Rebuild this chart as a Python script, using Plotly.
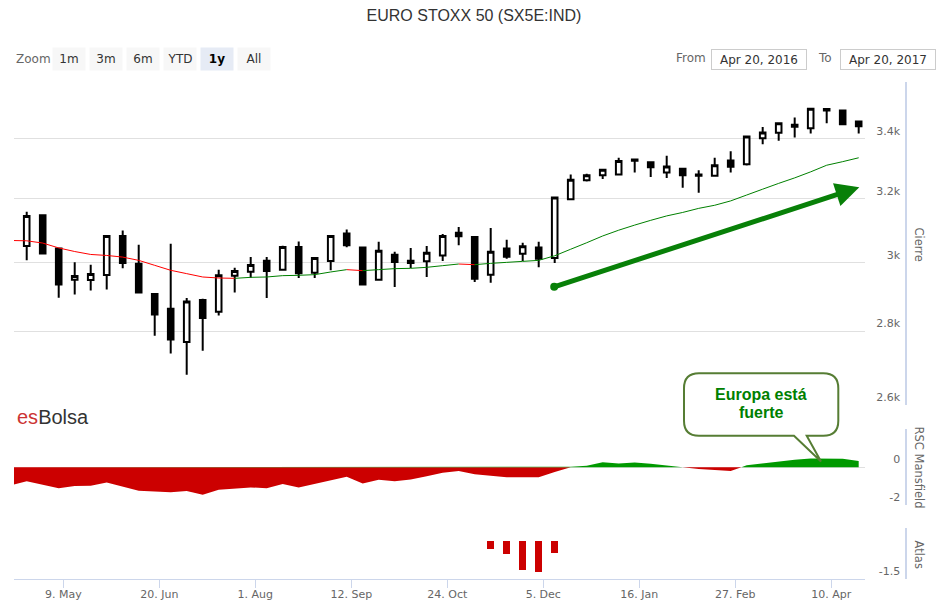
import pandas as pd
import plotly.graph_objects as go

# ---------------- data ----------------
CANDLE_START = "2016-04-23"
OPEN = [3051, 3147, 3043, 2949, 2948, 2963, 3082, 2997, 2907, 2864, 2769, 2889, 2855, 2961, 2973, 3006, 2979, 3048, 2970, 3005,
        3090, 3046, 2949, 3024, 3006, 3004, 3022, 3092, 3079, 2964, 3043, 3027, 3046, 3014, 3198, 3260, 3277, 3279, 3325, 3320,
        3286, 3298, 3275, 3275, 3326, 3313, 3401, 3420, 3441, 3436, 3503, 3498, 3459]
HIGH = [3158, 3150, 3045, 3001, 2994, 3084, 3099, 3055, 2908, 3058, 2895, 2893, 2979, 2985, 3017, 3017, 3052, 3065, 3016, 3084,
        3102, 3047, 3064, 3033, 3045, 3051, 3088, 3110, 3081, 3107, 3070, 3061, 3064, 3206, 3279, 3282, 3297, 3335, 3330, 3321,
        3342, 3299, 3293, 3335, 3357, 3410, 3440, 3457, 3473, 3506, 3505, 3499, 3461]
LOW = [3007, 3028, 2896, 2905, 2917, 2920, 2983, 2909, 2787, 2737, 2679, 2745, 2844, 2911, 2955, 2895, 2977, 2954, 2954, 2977,
       3047, 2933, 2947, 2927, 2984, 2957, 3005, 3053, 2942, 2940, 3012, 3005, 2986, 2999, 3195, 3256, 3264, 3277, 3286, 3271,
       3268, 3236, 3219, 3273, 3286, 3309, 3381, 3393, 3404, 3418, 3453, 3449, 3418]
CLOSE = [3145, 3028, 2935, 2960, 2966, 3082, 2999, 2911, 2847, 2776, 2885, 2837, 2962, 2975, 2993, 2975, 3048, 2968, 3014, 3082,
         3053, 2935, 3036, 3002, 2999, 3030, 3082, 3081, 2952, 3033, 3018, 3050, 3012, 3204, 3262, 3277, 3295, 3324, 3329, 3303,
         3306, 3277, 3279, 3310, 3305, 3407, 3421, 3453, 3448, 3504, 3498, 3450, 3443]

LINE_START = "2016-04-16"   # moving average & RSC Mansfield (one extra leading week)
MOVING_AVG = [3068, 3067, 3060, 3045, 3034, 3025, 3022, 3017, 3007, 2992, 2977, 2967, 2957, 2954, 2953, 2956, 2957, 2961, 2962,
              2964, 2972, 2979, 2976, 2979, 2982, 2983, 2986, 2991, 2996, 2994, 2998, 3001, 3004, 3007, 3021, 3041, 3061, 3082,
              3100, 3116, 3131, 3145, 3156, 3169, 3179, 3193, 3212, 3231, 3250, 3268, 3288, 3310, 3322, 3335]
RSC_MANSFIELD = [-0.96, -0.74, -0.93, -1.12, -1.00, -0.98, -0.81, -1.03, -1.25, -1.29, -1.33, -1.26, -1.46, -1.19, -1.13,
                 -1.07, -1.12, -0.89, -1.07, -0.88, -0.70, -0.51, -0.86, -0.67, -0.74, -0.65, -0.48, -0.30, -0.21, -0.38,
                 -0.45, -0.54, -0.54, -0.54, -0.25, 0.02, 0.07, 0.26, 0.19, 0.25, 0.18, 0.10, 0.00, -0.10, -0.15, -0.20,
                 0.10, 0.20, 0.29, 0.39, 0.46, 0.47, 0.45, 0.33]

ATLAS_DATES = ["2016-11-12", "2016-11-19", "2016-11-26", "2016-12-03", "2016-12-10"]
ATLAS = [-0.32, -0.52, -1.15, -1.23, -0.48]

X_TICKS = ["2016-05-09", "2016-06-20", "2016-08-01", "2016-09-12", "2016-10-24",
           "2016-12-05", "2017-01-16", "2017-02-27", "2017-04-10"]
X_TICK_TEXT = ["9. May", "20. Jun", "1. Aug", "12. Sep", "24. Oct", "5. Dec", "16. Jan", "27. Feb", "10. Apr"]
Y_TICKS = [2600, 2800, 3000, 3200, 3400, 3600]
Y_TICK_TEXT = ["2.6k", "2.8k", "3k", "3.2k", "3.4k", ""]
RSC_TICKS = [-2, 0, 2]
RSC_TICK_TEXT = ["-2", "0", ""]
ATLAS_TICKS = [-1.5, 0.5]
ATLAS_TICK_TEXT = ["-1.5", ""]

RANGE_BUTTONS = ["1m", "3m", "6m", "YTD", "1y", "All"]
ACTIVE_BUTTON = "1y"
FROM_DATE = "Apr 20, 2016"
TO_DATE = "Apr 20, 2017"

# ---------------- geometry helpers ----------------
PX_L, PX_R, PX_T, PX_B = 14, 906, 82, 579
W, H = PX_R - PX_L, PX_B - PX_T


def px(x):
    return (x - PX_L) / W


def py(y):
    return (PX_B - y) / H


candle_dates = pd.date_range(CANDLE_START, periods=len(OPEN), freq="7D")
line_dates = pd.date_range(LINE_START, periods=len(MOVING_AVG), freq="7D")

GRID = "#e0e0e0"
AXLINE = "#ccd6eb"
LABEL = "#666666"
FONT = "DejaVu Sans"

fig = go.Figure()

# candlesticks
fig.add_trace(go.Candlestick(
    x=candle_dates, open=OPEN, high=HIGH, low=LOW, close=CLOSE,
    increasing=dict(line=dict(color="black", width=2), fillcolor="white"),
    decreasing=dict(line=dict(color="black", width=2), fillcolor="black"),
    whiskerwidth=0, xaxis="x", yaxis="y", showlegend=False, hoverinfo="skip"))

# moving average coloured by slope
seg = {"red": ([], []), "green": ([], [])}
for i in range(len(MOVING_AVG) - 1):
    c = "red" if MOVING_AVG[i + 1] < MOVING_AVG[i] else "green"
    xs, ys = seg[c]
    xs += [line_dates[i], line_dates[i + 1], None]
    ys += [MOVING_AVG[i], MOVING_AVG[i + 1], None]
for c, col in (("red", "#ff0000"), ("green", "#008000")):
    fig.add_trace(go.Scatter(x=seg[c][0], y=seg[c][1], mode="lines", line=dict(color=col, width=1),
                             xaxis="x", yaxis="y", showlegend=False, hoverinfo="skip"))

# RSC Mansfield area, split at zero crossings
pts = []
for i, v in enumerate(RSC_MANSFIELD):
    t = line_dates[i]
    if i > 0:
        v0 = RSC_MANSFIELD[i - 1]
        if (v0 < 0 < v) or (v0 > 0 > v):
            frac = v0 / (v0 - v)
            pts.append((line_dates[i - 1] + (t - line_dates[i - 1]) * frac, 0.0))
    pts.append((t, v))
rx = [p[0] for p in pts]
fig.add_trace(go.Scatter(x=rx, y=[min(p[1], 0) for p in pts], mode="lines", line=dict(width=0, color="#cc0000"),
                         fill="tozeroy", fillcolor="#cc0000", xaxis="x", yaxis="y2", showlegend=False, hoverinfo="skip"))
fig.add_trace(go.Scatter(x=rx, y=[max(p[1], 0) for p in pts], mode="lines", line=dict(width=0, color="#009900"),
                         fill="tozeroy", fillcolor="#009900", xaxis="x", yaxis="y2", showlegend=False, hoverinfo="skip"))

# Atlas bars
fig.add_trace(go.Bar(x=pd.to_datetime(ATLAS_DATES), y=ATLAS, marker=dict(color="#cc0000", line=dict(width=0)),
                     width=3 * 86400000, xaxis="x", yaxis="y3", showlegend=False, hoverinfo="skip"))

yax_common = dict(anchor="free", position=1, side="right", showline=True, linecolor=AXLINE, linewidth=2,
                  showgrid=True, gridcolor=GRID, gridwidth=1, zeroline=False, ticks="", automargin=False,
                  ticklabelposition="inside top", tickfont=dict(size=11, color=LABEL, family=FONT),
                  ticklabelstandoff=3, fixedrange=True)

fig.update_layout(
    width=937, height=606,
    margin=dict(l=PX_L, r=937 - PX_R, t=PX_T, b=606 - PX_B, autoexpand=False),
    paper_bgcolor="white", plot_bgcolor="white",
    font=dict(family=FONT, color="#333333"),
    boxgap=0.5,
    bargap=0,
    title=dict(text="EURO STOXX 50 (SX5E:IND)", x=474 / 937, xanchor="center", xref="container",
               y=1 - 15 / 606, yanchor="middle", yref="container",
               font=dict(family="Liberation Sans", size=16, color="#333333")),
    xaxis=dict(domain=[0, px(865)], anchor="y3", type="date", automargin=False,
               range=["2016-04-17 10:34", "2017-04-24 18:14"],
               rangeslider=dict(visible=False), showgrid=False, zeroline=False,
               showline=True, linecolor=AXLINE, linewidth=1,
               ticks="outside", ticklen=8, tickcolor=AXLINE, ticklabelstandoff=-3,
               tickvals=pd.to_datetime(X_TICKS), ticktext=X_TICK_TEXT,
               tickfont=dict(size=11, color=LABEL, family=FONT), fixedrange=True),
    yaxis=dict(domain=[py(404.5), 1], type="log", range=[3.414973, 3.556303],
               tickvals=Y_TICKS, ticktext=Y_TICK_TEXT, **yax_common),
    yaxis2=dict(domain=[py(505), py(429.3)], range=[-2, 2],
                tickvals=RSC_TICKS, ticktext=RSC_TICK_TEXT, **yax_common),
    yaxis3=dict(domain=[0, py(528)], range=[-1.5, 0.5],
                tickvals=ATLAS_TICKS, ticktext=ATLAS_TICK_TEXT, **yax_common),
)

ann = []
# axis titles
for txt, yc in (("Cierre", 244), ("RSC Mansfield", 467), ("Atlas", 554)):
    ann.append(dict(text=txt, x=px(918.5), y=py(yc), xref="paper", yref="paper", showarrow=False,
                    textangle=90, font=dict(size=11.5, color=LABEL, family=FONT),
                    xanchor="center", yanchor="middle"))

# range selector look-alike
ann.append(dict(text="Zoom", x=px(14), y=py(59), xref="paper", yref="paper", showarrow=False,
                xanchor="left", yanchor="middle", font=dict(size=12, color=LABEL, family=FONT)))
bx = 52
for b in RANGE_BUTTONS:
    active = b == ACTIVE_BUTTON
    ann.append(dict(text=f"<b>{b}</b>" if active else b, x=px(bx), y=py(58.6), xref="paper", yref="paper",
                    showarrow=False, xanchor="left", yanchor="middle", width=32, height=22, borderpad=0,
                    bgcolor="#e6ebf5" if active else "#f7f7f7",
                    font=dict(size=12, color="#000000" if active else "#333333", family=FONT)))
    bx += 37
ann.append(dict(text="From", x=px(674), y=py(58), xref="paper", yref="paper", showarrow=False,
                xanchor="left", yanchor="middle", font=dict(size=12, color=LABEL, family=FONT)))
ann.append(dict(text=FROM_DATE, x=px(711), y=py(59), xref="paper", yref="paper", showarrow=False,
                xanchor="left", yanchor="middle", width=94, height=19, borderpad=0, bordercolor="#cccccc",
                borderwidth=1, font=dict(size=12, color="#333333", family=FONT)))
ann.append(dict(text="To", x=px(816), y=py(58), xref="paper", yref="paper", showarrow=False,
                xanchor="left", yanchor="middle", font=dict(size=12, color=LABEL, family=FONT)))
ann.append(dict(text=TO_DATE, x=px(840), y=py(59), xref="paper", yref="paper", showarrow=False,
                xanchor="left", yanchor="middle", width=94, height=19, borderpad=0, bordercolor="#cccccc",
                borderwidth=1, font=dict(size=12, color="#333333", family=FONT)))

# logo
ann.append(dict(text="<span style='color:#cc3333'>es</span>Bolsa", x=px(15), y=py(417), xref="paper", yref="paper",
                showarrow=False, xanchor="left", yanchor="middle",
                font=dict(size=20, color="#333333", family="Liberation Sans")))

# trend arrow
ann.append(dict(text="", x=px(859.3), y=py(187.3), xref="paper", yref="paper", showarrow=True,
                ax=552.7 - 859.3, ay=287.3 - 187.3, axref="pixel", ayref="pixel",
                arrowhead=2, arrowsize=0.95, arrowwidth=5, arrowcolor="#088008",
                arrowside="end+start", startarrowhead=6, startarrowsize=0.4, standoff=0, startstandoff=0))

# callout text
for txt, yc in (("Europa está", 394.5), ("fuerte", 412)):
    ann.append(dict(text=f"<b>{txt}</b>", x=px(761), y=py(yc), xref="paper", yref="paper", showarrow=False,
                    xanchor="center", yanchor="middle",
                    font=dict(size=16, color="#008000", family="Liberation Sans")))

fig.update_layout(annotations=ann)

# callout bubble
L, R, T, B, r = 684, 838.3, 373.3, 435.7, 15


def P(x, y):
    return f"{px(x):.5f},{py(y):.5f}"


path = (f"M{P(L + r, T)} L{P(R - r, T)} Q{P(R, T)} {P(R, T + r)} L{P(R, B - r)} Q{P(R, B)} {P(R - r, B)} "
        f"L{P(806.7, B)} L{P(821, 461.5)} L{P(794, B)} L{P(L + r, B)} Q{P(L, B)} {P(L, B - r)} "
        f"L{P(L, T + r)} Q{P(L, T)} {P(L + r, T)} Z")
fig.add_shape(type="path", path=path, xref="paper", yref="paper", fillcolor="white",
              line=dict(color="#567d34", width=2), layer="above")

fig.write_html("out.html", config={"displayModeBar": False},
               post_script="document.body.style.margin='0';")
